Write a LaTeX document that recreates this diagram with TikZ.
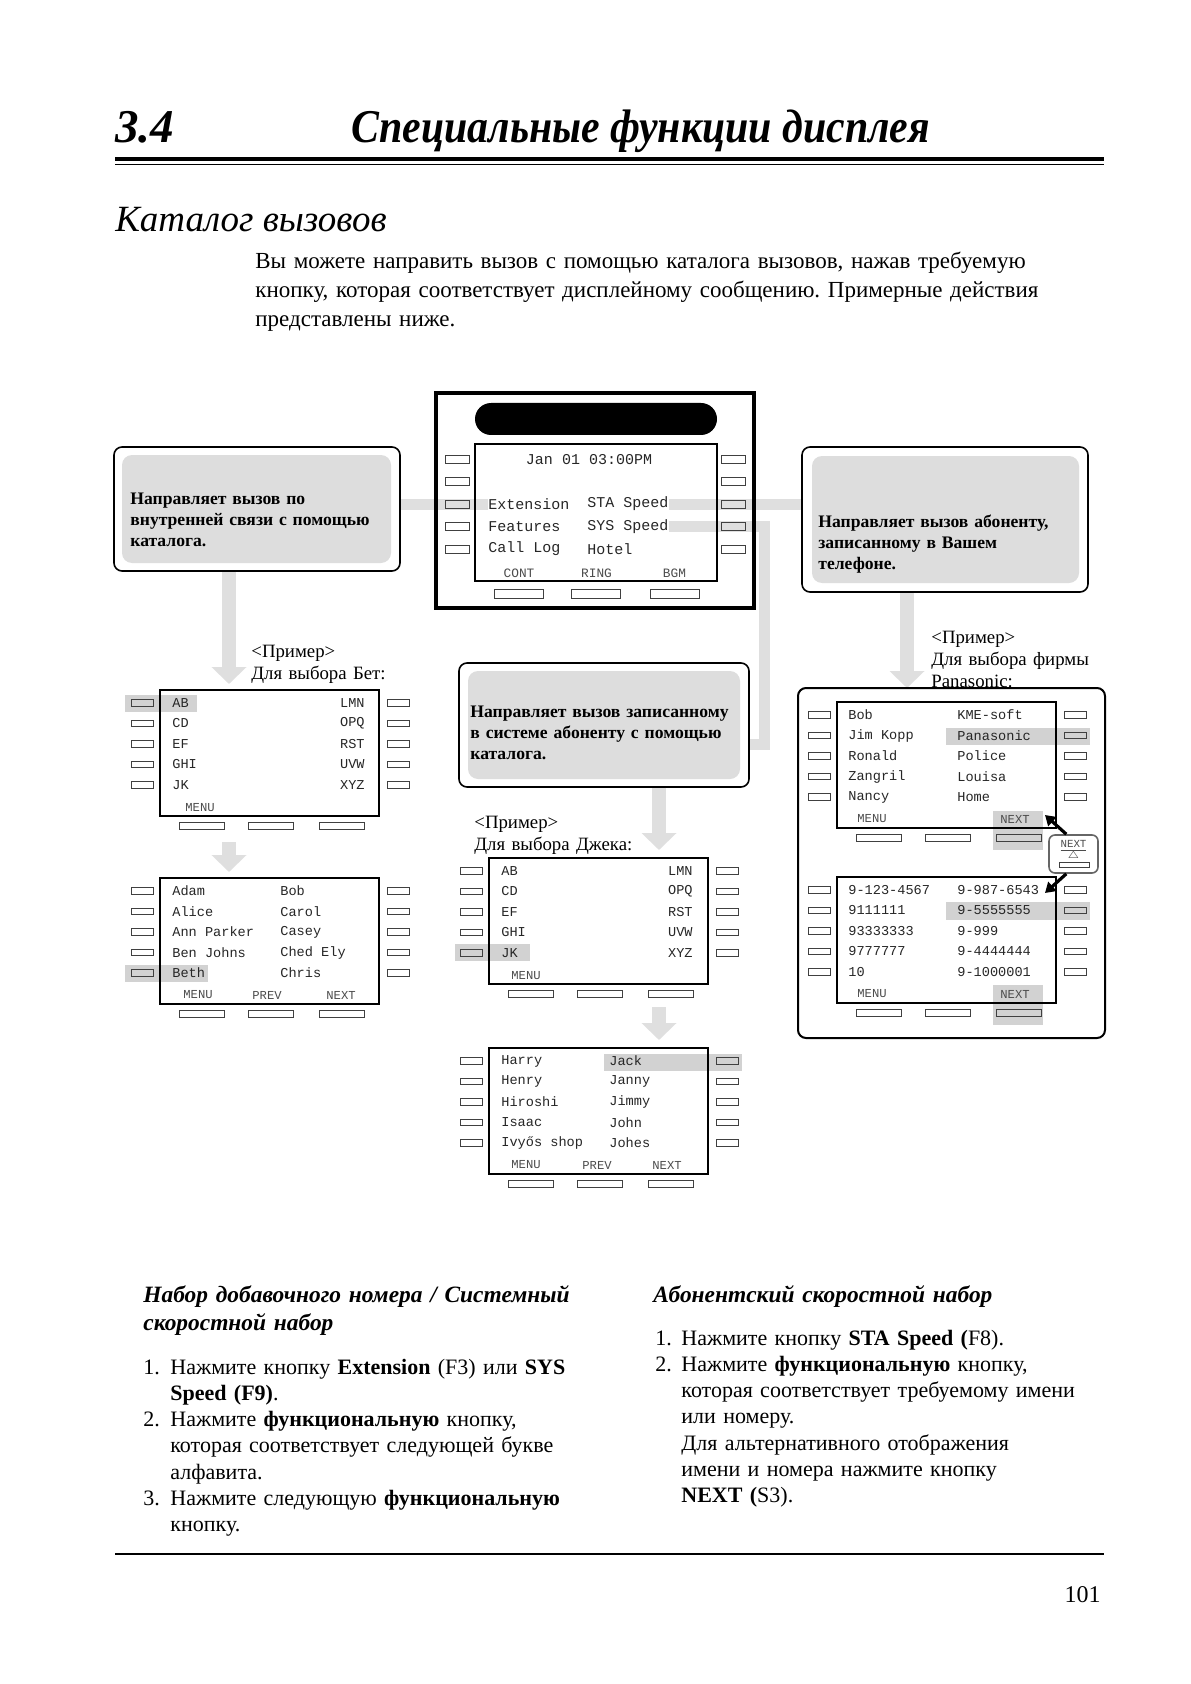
\documentclass[tikz,border=0pt]{standalone}
\usepackage{fontspec}
\setmainfont{Liberation Serif}
\setmonofont{Liberation Mono}
\newfontfamily\narrowserif[FakeStretch=0.89]{Liberation Serif}
\usetikzlibrary{arrows.meta, positioning, backgrounds}
\frenchspacing

\tikzstyle{band}       = [line width=5.5pt, draw=gray!25]
\tikzstyle{grayarrow}  = [line width=7pt, color=gray!25, -{Triangle[width=17pt, length=8.5pt]}]
\tikzstyle{blackarrow} = [line width=1.6pt, -{Triangle[width=6pt, length=5pt]}]
\tikzstyle{frame}      = [rectangle, draw, rounded corners=4pt, line width=0.8pt, inner sep=0]
\tikzstyle{graypad}    = [rectangle, fill=gray!27, rounded corners=5pt, inner sep=0]
\tikzstyle{lcd}        = [rectangle, draw, line width=0.9pt, minimum width=109.5pt, minimum height=63pt, inner sep=0]
\tikzstyle{sidekey}    = [rectangle, draw=black!75, line width=0.5pt, minimum width=11pt, minimum height=3.25pt, inner sep=0]
\tikzstyle{softkey}    = [rectangle, draw=black!75, line width=0.5pt, minimum width=22.5pt, minimum height=3.5pt, inner sep=0]
\tikzstyle{lcdtext}    = [font=\fontsize{6.8}{7}\selectfont\ttfamily, text=black!85, inner sep=0, anchor=west]
\tikzstyle{keylabel}   = [font=\fontsize{6.1}{6.5}\selectfont\ttfamily, text=black!70, inner sep=0, anchor=west]
\tikzstyle{pick}       = [fill=gray!35]
\tikzstyle{boxtext}    = [font=\fontsize{8.8}{10.6}\selectfont\bfseries, anchor=base west, inner sep=0, text width=140pt, align=left]
\tikzstyle{example}    = [font=\fontsize{9.4}{11}\selectfont, anchor=base west, inner sep=0, text width=100pt, align=left]
\tikzstyle{bodytext}   = [font=\fontsize{11}{13.15}\selectfont, anchor=base west, inner sep=0, text width=240pt, align=left]
\tikzstyle{headline}   = [font=\fontsize{11.7}{14}\selectfont\bfseries\itshape, anchor=base west, inner sep=0, text width=240pt, align=left]

% one small display with its side keys and soft keys
\newcommand{\keyset}[3]{%
  \node (#1) at (#2+109.5, #3+63) [lcd] {};
  \foreach \k in {1,...,5} {
    \node (#1-l\k) at (#2-18, #3-7.5+20.5*\k) [sidekey] {};
    \node (#1-r\k) at (#2+238, #3-7.5+20.5*\k) [sidekey] {};
  }
  \foreach \k/\dx in {1/41.5, 2/110.5, 3/182}
    \node (#1-b\k) at (#2+\dx, #3+135.5) [softkey] {};
}

\begin{document}
\begin{tikzpicture}[x=0.5pt, y=-0.5pt]
  \useasboundingbox (0,0) rectangle (1190,1684);
  \begin{scope}[on background layer]
    \fill[white] (0,0) rectangle (1190,1684);
    % selected lines
    \fill[pick] (125,695) rectangle (197,712);
    \fill[pick] (125,965) rectangle (208,982);
    \fill[pick] (455,944) rectangle (530,961);
    \fill[pick] (604,1054) rectangle (742,1071);
    \fill[pick] (946,728) rectangle (1090,745);
    \fill[pick] (993,811) rectangle (1043,850);
    \fill[pick] (946,902) rectangle (1090,920);
    \fill[pick] (993,985) rectangle (1043,1025);
  \end{scope}

  % page heading
  \node (secno) at (115,143) [anchor=base west, inner sep=0, font=\fontsize{23.5}{28}\selectfont\bfseries\itshape] {3.4};
  \node (sectitle) at (351,143) [anchor=base west, inner sep=0, font=\fontsize{23.5}{28}\narrowserif\bfseries\itshape] {Специальные функции дисплея};
  \draw[line width=2pt] (115,159) -- (1104,159);
  \draw[line width=0.75pt] (115,164.5) -- (1104,164.5);
  \node (subtitle) at (115,232) [anchor=base west, inner sep=0, font=\fontsize{18.5}{22}\selectfont\itshape] {Каталог вызовов};
  \node (intro) at (255,269) [bodytext, text width=420pt, font=\fontsize{11.5}{14.3}\selectfont]
        {Вы можете направить вызов с помощью каталога вызовов, нажав требуемую\\
         кнопку, которая соответствует дисплейному сообщению. Примерные действия\\
         представлены ниже.};

  % central telephone display
  \node (cphone) at (595,500.5) [rectangle, draw, line width=2pt, minimum width=159pt, minimum height=107.5pt, inner sep=0] {};
  \node (cbar) at (596,419) [rectangle, fill=black, rounded corners=8pt, minimum width=121pt, minimum height=16pt, inner sep=0] {};
  \node (cscreen) at (596,512.5) [lcd, minimum width=121pt, minimum height=68.5pt] {};
  \foreach \k/\y in {1/459, 2/481.5, 3/504, 4/526.5, 5/549} {
    \node (c-l\k) at (457,\y) [sidekey, minimum width=12pt, minimum height=4pt] {};
    \node (c-r\k) at (733.5,\y) [sidekey, minimum width=12pt, minimum height=4pt] {};
  }
  \foreach \k/\x in {1/518.5, 2/596, 3/675}
    \node (c-b\k) at (\x,593.5) [softkey, minimum width=24.5pt, minimum height=4.5pt] {};
  \node (cdate) at (589,460) [lcdtext, anchor=center, font=\fontsize{7.5}{8}\selectfont\ttfamily] {Jan 01 03:00PM};
  \node (ext)  at (488,504)   [lcdtext, font=\fontsize{7.5}{8}\selectfont\ttfamily] {Extension};
  \node (sta)  at (587,504)   [lcdtext, font=\fontsize{7.5}{8}\selectfont\ttfamily] {STA Speed};
  \node (feat) at (488,526.5) [lcdtext, font=\fontsize{7.5}{8}\selectfont\ttfamily] {Features};
  \node (sys)  at (587,526.5) [lcdtext, font=\fontsize{7.5}{8}\selectfont\ttfamily] {SYS Speed};
  \node (clog) at (488,549)   [lcdtext, font=\fontsize{7.5}{8}\selectfont\ttfamily] {Call Log};
  \node (htl)  at (587,549)   [lcdtext, font=\fontsize{7.5}{8}\selectfont\ttfamily] {Hotel};
  \node (cont) at (519,573)   [keylabel, anchor=center, font=\fontsize{6.4}{7}\selectfont\ttfamily] {CONT};
  \node (ring) at (596.5,573) [keylabel, anchor=center, font=\fontsize{6.4}{7}\selectfont\ttfamily] {RING};
  \node (bgm)  at (674.5,573) [keylabel, anchor=center, font=\fontsize{6.4}{7}\selectfont\ttfamily] {BGM};

  % explanation boxes
  \node (lbox) at (257,509) [frame, minimum width=143pt, minimum height=62pt] {};
  \node (lpad) at (256.5,509) [graypad, minimum width=134.5pt, minimum height=54pt] {};
  \node (ltxt) at (130,504) [boxtext] {Направляет вызов по\\внутренней связи с помощью\\каталога.};

  \node (rbox) at (945,519.5) [frame, minimum width=143pt, minimum height=72.5pt] {};
  \node (rpad) at (945.5,519.5) [graypad, minimum width=133.5pt, minimum height=63.5pt] {};
  \node (rtxt) at (818,527) [boxtext] {Направляет вызов абоненту,\\записанному в Вашем\\телефоне.};

  \node (mbox) at (604,725) [frame, minimum width=145pt, minimum height=62pt] {};
  \node (mpad) at (604,725) [graypad, minimum width=136pt, minimum height=54pt] {};
  \node (mtxt) at (470,717) [boxtext] {Направляет вызов записанному\\в системе абоненту с помощью\\каталога.};

  % gray connectors from the display keys
  \coordinate (bend1) at (764,526.5);
  \coordinate (bend2) at (764,744.5);
  \begin{scope}[on background layer]
    \draw[band] (lbox.east |- c-l3) -- (ext.west |- c-l3);
    \draw[band] (sta.east |- c-r3) -- (rbox.west |- c-r3);
    \draw[band] (sys.east |- c-r4) -- (bend1) -- (bend2) -- (mbox.east |- bend2);
  \end{scope}

  % left branch
  \coordinate (l1-in) at (229,684);
  \draw[grayarrow] (lbox.south -| l1-in) -- (l1-in);
  \node (lex) at (251,657) [example] {<Пример>\\Для выбора Бет:};
  \keyset{l1}{160}{690}
  \foreach \t [count=\k] in {AB, CD, EF, GHI, JK}
    \node (l1-a\k) at (172,682.5+20.5*\k) [lcdtext] {\t};
  \foreach \t [count=\k] in {LMN, OPQ, RST, UVW, XYZ}
    \node (l1-z\k) at (365,682.5+20.5*\k) [lcdtext, anchor=east] {\t};
  \node (l1-menu) at (185,808) [keylabel] {MENU};

  \coordinate (l2-out) at (229,842);
  \coordinate (l2-in) at (229,872);
  \draw[grayarrow] (l2-out) -- (l2-in);
  \keyset{l2}{160}{878}
  \foreach \t [count=\k] in {Adam, Alice, Ann Parker, Ben Johns, Beth}
    \node (l2-a\k) at (172,870.5+20.5*\k) [lcdtext] {\t};
  \foreach \t [count=\k] in {Bob, Carol, Casey, Ched Ely, Chris}
    \node (l2-z\k) at (280,870.5+20.5*\k) [lcdtext] {\t};
  \node (l2-menu) at (183,995) [keylabel] {MENU};
  \node (l2-prev) at (252,995) [keylabel] {PREV};
  \node (l2-next) at (326,995) [keylabel] {NEXT};

  % middle branch
  \coordinate (m1-in) at (659,850);
  \draw[grayarrow] (mbox.south -| m1-in) -- (m1-in);
  \node (mex) at (474,828) [example] {<Пример>\\Для выбора Джека:};
  \keyset{m1}{489}{858}
  \foreach \t [count=\k] in {AB, CD, EF, GHI, JK}
    \node (m1-a\k) at (501,850.5+20.5*\k) [lcdtext] {\t};
  \foreach \t [count=\k] in {LMN, OPQ, RST, UVW, XYZ}
    \node (m1-z\k) at (693,850.5+20.5*\k) [lcdtext, anchor=east] {\t};
  \node (m1-menu) at (511,976) [keylabel] {MENU};

  \coordinate (m2-out) at (659,1007);
  \coordinate (m2-in) at (659,1040);
  \draw[grayarrow] (m2-out) -- (m2-in);
  \keyset{m2}{489}{1048}
  \foreach \t [count=\k] in {Harry, Henry, Hiroshi, Isaac, Ivyős shop}
    \node (m2-a\k) at (501,1040.5+20.5*\k) [lcdtext] {\t};
  \foreach \t [count=\k] in {Jack, Janny, Jimmy, John, Johes}
    \node (m2-z\k) at (609,1040.5+20.5*\k) [lcdtext] {\t};
  \node (m2-menu) at (511,1165) [keylabel] {MENU};
  \node (m2-prev) at (582,1165) [keylabel] {PREV};
  \node (m2-next) at (652,1165) [keylabel] {NEXT};

  % right branch
  \coordinate (rg-in) at (907,688);
  \draw[grayarrow] (rbox.south -| rg-in) -- (rg-in);
  \node (rex) at (931,643) [example, font=\fontsize{9.4}{11.1}\selectfont] {<Пример>\\Для выбора фирмы\\Panasonic:};
  \node (rgroup) at (951.5,863) [frame, minimum width=153.5pt, minimum height=175pt, line width=1pt] {};
  \keyset{r1}{837}{702}
  \foreach \t [count=\k] in {Bob, Jim Kopp, Ronald, Zangril, Nancy}
    \node (r1-a\k) at (848,694.5+20.5*\k) [lcdtext] {\t};
  \foreach \t [count=\k] in {KME-soft, Panasonic, Police, Louisa, Home}
    \node (r1-z\k) at (957,694.5+20.5*\k) [lcdtext] {\t};
  \node (r1-menu) at (857,819) [keylabel] {MENU};
  \node (r1-next) at (1000,819) [keylabel] {NEXT};

  \keyset{r2}{837}{877}
  \foreach \t [count=\k] in {9-123-4567, 9111111, 93333333, 9777777, 10}
    \node (r2-a\k) at (848,869.5+20.5*\k) [lcdtext] {\t};
  \foreach \t [count=\k] in {9-987-6543, 9-5555555, 9-999, 9-4444444, 9-1000001}
    \node (r2-z\k) at (957,869.5+20.5*\k) [lcdtext] {\t};
  \node (r2-menu) at (857,994) [keylabel] {MENU};
  \node (r2-next) at (1000,994) [keylabel] {NEXT};

  % NEXT key between the two displays
  \node (nextkey) at (1073.5,854) [rectangle, draw=black!60, rounded corners=3pt, line width=0.8pt, minimum width=24.5pt, minimum height=19pt, inner sep=0] {};
  \node (nextlbl) at (1073.5,846) [inner sep=0, font=\fontsize{5.4}{6}\selectfont\ttfamily, text=black!70] {\underline{NEXT}};
  \node (nexttri) at (1073.5,856) [inner sep=0, text=black!70, font=\tiny] {$\triangle$};
  \node (nextbtn) at (1074,864.5) [softkey, minimum width=15pt, minimum height=2.5pt] {};
  \coordinate (nx-up) at (1045,815);
  \coordinate (nx-down) at (1045,893);
  \draw[blackarrow] (nextkey.110) -- (nx-up);
  \draw[blackarrow] (nextkey.250) -- (nx-down);

  % instructions
  \node (lhead) at (143,1302) [headline] {Набор добавочного номера / Системный\\скоростной набор};
  \node (l-n1) at (143,1374)   [bodytext, text width=20pt] {1.};
  \node (l-t1) at (170,1374)   [bodytext] {Нажмите кнопку \textbf{Extension} (F3) или \textbf{SYS}\\\textbf{Speed (F9)}.};
  \node (l-n2) at (143,1426.6) [bodytext, text width=20pt] {2.};
  \node (l-t2) at (170,1426.6) [bodytext] {Нажмите \textbf{функциональную} кнопку,\\которая соответствует следующей букве\\алфавита.};
  \node (l-n3) at (143,1505.5) [bodytext, text width=20pt] {3.};
  \node (l-t3) at (170,1505.5) [bodytext] {Нажмите следующую \textbf{функциональную}\\кнопку.};

  \node (rhead) at (653,1302) [headline] {Абонентский скоростной набор};
  \node (r-n1) at (655,1345)   [bodytext, text width=20pt] {1.};
  \node (r-t1) at (681,1345)   [bodytext] {Нажмите кнопку \textbf{STA Speed (}F8).};
  \node (r-n2) at (655,1371.3) [bodytext, text width=20pt] {2.};
  \node (r-t2) at (681,1371.3) [bodytext] {Нажмите \textbf{функциональную} кнопку,\\которая соответствует требуемому имени\\или номеру.\\Для альтернативного отображения\\имени и номера нажмите кнопку\\\textbf{NEXT (}S3).};

  \draw[line width=1pt] (115,1554) -- (1104,1554);
  \node (pageno) at (1101,1602) [anchor=base east, inner sep=0, font=\fontsize{12}{14}\selectfont] {101};
\end{tikzpicture}
\end{document}
